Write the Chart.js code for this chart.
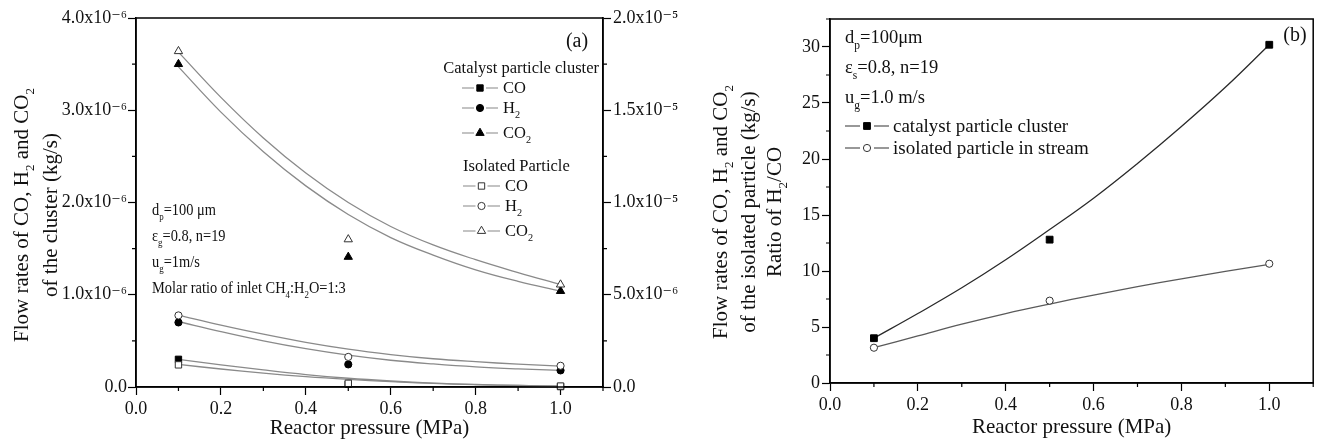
<!DOCTYPE html>
<html>
<head>
<meta charset="utf-8">
<style>
  body { margin: 0; background: #fff; }
  #wrap { position: relative; width: 1319px; height: 442px; }
  #boxA { position: absolute; left: 0; top: 0; width: 780px; height: 442px; }
  #boxB { position: absolute; left: 740px; top: 0; width: 579px; height: 442px; }
</style>
</head>
<body>
<div id="wrap">
  <div id="boxA"><canvas id="chartA"></canvas></div>
  <div id="boxB"><canvas id="chartB"></canvas></div>
</div>

<script src="https://cdn.jsdelivr.net/npm/chart.js"></script>
<script>
  // ---- data ----
  const pressure = [0.1, 0.5, 1.0];

  // (a) catalyst particle cluster, left axis (kg/s)
  const clusterCO  = [0.30e-6, 0.03e-6, 0.005e-6];
  const clusterH2  = [0.70e-6, 0.245e-6, 0.18e-6];
  const clusterCO2 = [3.50e-6, 1.41e-6, 1.04e-6];
  // (a) isolated particle, right axis (kg/s)
  const isolatedCO  = [1.2e-6, 0.2e-6, 0.05e-6];
  const isolatedH2  = [3.88e-6, 1.63e-6, 1.15e-6];
  const isolatedCO2 = [1.82e-5, 8.0e-6, 5.55e-6];

  // fitted curves as drawn in the figure
  const fitPressure = [0.1, 0.2, 0.3, 0.4, 0.5, 0.6, 0.7, 0.8, 0.9, 1.0];
  const fitClusterCO   = [0.30, 0.24, 0.185, 0.135, 0.095, 0.065, 0.042, 0.027, 0.017, 0.01].map(v => v * 1e-6);
  const fitClusterH2   = [0.71, 0.60, 0.50, 0.415, 0.345, 0.29, 0.25, 0.218, 0.196, 0.18].map(v => v * 1e-6);
  const fitClusterCO2  = [3.47, 2.98, 2.55, 2.18, 1.87, 1.62, 1.43, 1.27, 1.145, 1.04].map(v => v * 1e-6);
  const fitIsolatedCO  = [1.225, 0.975, 0.75, 0.56, 0.41, 0.29, 0.195, 0.125, 0.08, 0.05].map(v => v * 1e-6);
  const fitIsolatedH2  = [3.9, 3.35, 2.86, 2.42, 2.05, 1.76, 1.53, 1.37, 1.24, 1.13].map(v => v * 1e-6);
  const fitIsolatedCO2 = [18.15, 15.7, 13.5, 11.6, 10.0, 8.7, 7.7, 6.9, 6.2, 5.55].map(v => v * 1e-6);

  // (b) ratio of H2/CO
  const ratioCluster  = [4.0, 12.8, 30.2];
  const ratioIsolated = [3.15, 7.35, 10.65];
  const fitRatioCluster  = [4.0, 6.2, 8.5, 11.0, 13.7, 16.5, 19.6, 22.9, 26.4, 30.2];
  const fitRatioIsolated = [3.15, 4.2, 5.25, 6.2, 7.05, 7.85, 8.6, 9.3, 9.97, 10.6];

  // tick labels
  const xTickLabels = ['0.0', '0.2', '0.4', '0.6', '0.8', '1.0'];
  const leftTickLabels = ['0.0', '1.0x10\u207B\u2076', '2.0x10\u207B\u2076', '3.0x10\u207B\u2076', '4.0x10\u207B\u2076'];
  const rightTickLabels = ['0.0', '5.0x10\u207B\u2076', '1.0x10\u207B\u2075', '1.5x10\u207B\u2075', '2.0x10\u207B\u2075'];
  const ratioTickLabels = ['0', '5', '10', '15', '20', '25', '30'];

  const SERIF = '"Liberation Serif", "DejaVu Serif", serif';
  Chart.defaults.font.family = SERIF;
  Chart.defaults.color = '#111';

  const pts = (xs, ys) => xs.map((x, i) => ({ x: x, y: ys[i] }));

  // text with subscripts; parts: strings, or [string] for a subscript
  function rich(ctx, parts, x, y, size, align, rot, sx) {
    ctx.save();
    ctx.translate(x, y);
    if (rot) ctx.rotate(rot);
    if (sx) ctx.scale(sx, 1);
    const segs = parts.map(p => Array.isArray(p)
      ? { t: p[0], s: size * 0.62, dy: size * 0.3 }
      : { t: p, s: size, dy: 0 });
    let w = 0;
    segs.forEach(g => { ctx.font = g.s + 'px ' + SERIF; g.w = ctx.measureText(g.t).width; w += g.w; });
    let cx = align === 'center' ? -w / 2 : align === 'right' ? -w : 0;
    ctx.fillStyle = '#111';
    ctx.textAlign = 'left';
    ctx.textBaseline = 'alphabetic';
    segs.forEach(g => {
      ctx.font = g.s + 'px ' + SERIF;
      ctx.fillText(g.t, cx, size * 0.33 + g.dy);
      cx += g.w;
    });
    ctx.restore();
  }

  function marker(ctx, style, x, y, r, filled) {
    ctx.save();
    ctx.beginPath();
    if (style === 'rect') {
      const s = r * Math.SQRT1_2;
      ctx.rect(x - s, y - s, 2 * s, 2 * s);
    } else if (style === 'circle') {
      ctx.arc(x, y, r, 0, Math.PI * 2);
    } else {
      let a = 0;
      ctx.moveTo(x + Math.sin(a) * r, y - Math.cos(a) * r);
      a += Math.PI * 2 / 3;
      ctx.lineTo(x + Math.sin(a) * r, y - Math.cos(a) * r);
      a += Math.PI * 2 / 3;
      ctx.lineTo(x + Math.sin(a) * r, y - Math.cos(a) * r);
      ctx.closePath();
    }
    ctx.fillStyle = filled ? '#000' : '#fff';
    ctx.strokeStyle = filled ? '#000' : '#333';
    ctx.lineWidth = 1;
    ctx.fill();
    ctx.stroke();
    ctx.restore();
  }

  function legendRow(ctx, style, filled, x1, x2, y, r, color, gap, label, lx, size) {
    const mx = (x1 + x2) / 2;
    ctx.save();
    ctx.strokeStyle = color;
    ctx.lineWidth = 1.2;
    ctx.beginPath();
    ctx.moveTo(x1, y); ctx.lineTo(mx - gap, y);
    ctx.moveTo(mx + gap, y); ctx.lineTo(x2, y);
    ctx.stroke();
    ctx.restore();
    marker(ctx, style, mx, y, r, filled);
    rich(ctx, label, lx, y, size, 'left');
  }

  // box around the plot and short minor ticks
  function frameAndMinor(chart, minors) {
    const { ctx, chartArea: a } = chart;
    ctx.save();
    ctx.strokeStyle = '#000';
    ctx.lineWidth = 1.5;
    ctx.strokeRect(a.left, a.top, a.right - a.left, a.bottom - a.top);
    ctx.lineWidth = 1.2;
    ctx.beginPath();
    minors.forEach(m => {
      const s = chart.scales[m.id];
      for (let v = s.min + m.first; v <= s.max + m.step * 1e-6; v += m.step) {
        const p = s.getPixelForValue(v);
        if (m.id === 'x') { ctx.moveTo(p, a.bottom); ctx.lineTo(p, a.bottom + 4); }
        else if (s.position === 'left') { ctx.moveTo(a.left - 4, p); ctx.lineTo(a.left, p); }
        else { ctx.moveTo(a.right, p); ctx.lineTo(a.right + 4, p); }
      }
    });
    ctx.stroke();
    ctx.restore();
  }

  const axisCommon = {
    grid: { drawOnChartArea: false, tickLength: 8, tickWidth: 1.2, tickColor: '#000' },
    border: { color: '#000', width: 1.5 }
  };

  // ---------------- chart (a) ----------------
  const decorA = {
    id: 'decorA',
    afterDraw(chart) {
      const ctx = chart.ctx;
      frameAndMinor(chart, [
        { id: 'x', first: 0.1, step: 0.2 },
        { id: 'y', first: 0.5e-6, step: 1e-6 },
        { id: 'y2', first: 2.5e-6, step: 5e-6 }
      ]);
      // axis titles
      rich(ctx, ['Flow rates of CO, H', ['2'], ' and CO', ['2']], 21, 215, 21, 'center', -Math.PI / 2);
      rich(ctx, ['of the cluster (kg/s)'], 50, 215, 21, 'center', -Math.PI / 2);
      rich(ctx, ['Flow rates of CO, H', ['2'], ' and CO', ['2']], 720, 212, 21, 'center', -Math.PI / 2);
      rich(ctx, ['of the isolated particle (kg/s)'], 748, 212, 21, 'center', -Math.PI / 2);
      // panel label
      rich(ctx, ['(a)'], 577, 40, 20, 'center');
      // legend
      rich(ctx, ['Catalyst particle cluster'], 599, 68, 16.5, 'right');
      legendRow(ctx, 'rect', true, 462, 498, 88, 4.5, '#888', 6, ['CO'], 503, 16.5);
      legendRow(ctx, 'circle', true, 462, 498, 108, 3.6, '#888', 6, ['H', ['2']], 503, 16.5);
      legendRow(ctx, 'triangle', true, 462, 498, 133, 4.8, '#888', 6, ['CO', ['2']], 503, 16.5);
      rich(ctx, ['Isolated Particle'], 463, 166, 16.5, 'left');
      legendRow(ctx, 'rect', false, 463, 500, 186, 4.5, '#888', 6, ['CO'], 505, 16.5);
      legendRow(ctx, 'circle', false, 463, 500, 206, 3.6, '#888', 6, ['H', ['2']], 505, 16.5);
      legendRow(ctx, 'triangle', false, 463, 500, 231, 4.8, '#888', 6, ['CO', ['2']], 505, 16.5);
      // conditions
      rich(ctx, ['d', ['p'], '=100 \u03BCm'], 152, 210, 16, 'left', 0, 0.9);
      rich(ctx, ['\u03B5', ['g'], '=0.8, n=19'], 152, 236, 16, 'left', 0, 0.9);
      rich(ctx, ['u', ['g'], '=1m/s'], 152, 262, 16, 'left', 0, 0.9);
      rich(ctx, ['Molar ratio of inlet CH', ['4'], ':H', ['2'], 'O=1:3'], 152, 288, 16, 'left', 0, 0.9);
    }
  };

  const markerSet = (data, axis, style, r, filled, order) => ({
    data: data, yAxisID: axis, showLine: false, clip: false, order: order,
    pointStyle: style, pointRadius: r, pointBorderWidth: 1,
    pointBackgroundColor: filled ? '#000' : '#fff',
    pointBorderColor: filled ? '#000' : '#333'
  });
  const curveSet = (data, axis, color) => ({
    data: data, yAxisID: axis, pointRadius: 0, borderColor: color, borderWidth: 1.3,
    tension: 0.4, fill: false, order: 2
  });

  new Chart(document.getElementById('chartA'), {
    type: 'line',
    data: {
      datasets: [
        markerSet(pts(pressure, isolatedCO), 'y2', 'rect', 4.5, false, 0),
        markerSet(pts(pressure, isolatedH2), 'y2', 'circle', 3.6, false, 0),
        markerSet(pts(pressure, isolatedCO2), 'y2', 'triangle', 4.8, false, 0),
        markerSet(pts(pressure, clusterCO), 'y', 'rect', 4.5, true, 1),
        markerSet(pts(pressure, clusterH2), 'y', 'circle', 3.6, true, 1),
        markerSet(pts(pressure, clusterCO2), 'y', 'triangle', 4.8, true, 1),
        curveSet(pts(fitPressure, fitClusterCO), 'y', '#8a8a8a'),
        curveSet(pts(fitPressure, fitClusterH2), 'y', '#8a8a8a'),
        curveSet(pts(fitPressure, fitClusterCO2), 'y', '#8a8a8a'),
        curveSet(pts(fitPressure, fitIsolatedCO), 'y2', '#8a8a8a'),
        curveSet(pts(fitPressure, fitIsolatedH2), 'y2', '#8a8a8a'),
        curveSet(pts(fitPressure, fitIsolatedCO2), 'y2', '#8a8a8a')
      ]
    },
    options: {
      responsive: true,
      maintainAspectRatio: false,
      animation: false,
      layout: { padding: { top: 18, left: 0, right: 0, bottom: 0 } },
      plugins: { legend: { display: false }, tooltip: { enabled: false } },
      scales: {
        x: {
          ...axisCommon, type: 'linear', min: 0, max: 1.1,
          afterFit: s => { s.height = 55; },
          ticks: { stepSize: 0.2, includeBounds: false, autoSkip: false, maxRotation: 0,
                   padding: 3, font: { size: 18 }, color: '#111', callback: (v, i) => xTickLabels[i] },
          title: { display: true, text: 'Reactor pressure (MPa)', font: { size: 21 }, color: '#111',
                   padding: { top: 0, bottom: 1 } }
        },
        y: {
          ...axisCommon, position: 'left', min: 0, max: 4e-6,
          afterFit: s => { s.width = 136; },
          ticks: { stepSize: 1e-6, includeBounds: false, autoSkip: false, padding: 1,
                   font: { size: 18 }, color: '#111', callback: (v, i) => leftTickLabels[i] }
        },
        y2: {
          ...axisCommon, position: 'right', min: 0, max: 2e-5,
          afterFit: s => { s.width = 177; },
          ticks: { stepSize: 5e-6, includeBounds: false, autoSkip: false, padding: 2,
                   font: { size: 18 }, color: '#111', callback: (v, i) => rightTickLabels[i] }
        }
      }
    },
    plugins: [decorA]
  });

  // ---------------- chart (b) ----------------
  const OFF = 740;
  const decorB = {
    id: 'decorB',
    afterDraw(chart) {
      const ctx = chart.ctx;
      frameAndMinor(chart, [
        { id: 'x', first: 0.1, step: 0.2 },
        { id: 'y', first: 2.5, step: 5 }
      ]);
      rich(ctx, ['Ratio of H', ['2'], '/CO'], 774 - OFF, 212, 21, 'center', -Math.PI / 2);
      rich(ctx, ['(b)'], 1295 - OFF, 34, 20, 'center');
      rich(ctx, ['d', ['p'], '=100\u03BCm'], 845 - OFF, 37, 18.5, 'left');
      rich(ctx, ['\u03B5', ['s'], '=0.8, n=19'], 845 - OFF, 67, 18.5, 'left');
      rich(ctx, ['u', ['g'], '=1.0 m/s'], 845 - OFF, 97, 18.5, 'left');
      legendRow(ctx, 'rect', true, 845 - OFF, 889 - OFF, 126, 4.8, '#333', 7, ['catalyst particle cluster'], 893 - OFF, 19);
      legendRow(ctx, 'circle', false, 845 - OFF, 889 - OFF, 148, 3.6, '#333', 7, ['isolated particle in stream'], 893 - OFF, 19);
    }
  };

  new Chart(document.getElementById('chartB'), {
    type: 'line',
    data: {
      datasets: [
        markerSet(pts(pressure, ratioIsolated), 'y', 'circle', 3.6, false, 0),
        markerSet(pts(pressure, ratioCluster), 'y', 'rect', 4.8, true, 1),
        curveSet(pts(fitPressure, fitRatioCluster), 'y', '#2a2a2a'),
        curveSet(pts(fitPressure, fitRatioIsolated), 'y', '#5a5a5a')
      ]
    },
    options: {
      responsive: true,
      maintainAspectRatio: false,
      animation: false,
      layout: { padding: { top: 19, left: 0, right: 1, bottom: 0 } },
      plugins: { legend: { display: false }, tooltip: { enabled: false } },
      scales: {
        x: {
          ...axisCommon, type: 'linear', min: 0, max: 1.1,
          afterFit: s => { s.height = 59; },
          ticks: { stepSize: 0.2, includeBounds: false, autoSkip: false, maxRotation: 0,
                   padding: 3, font: { size: 18 }, color: '#111', callback: (v, i) => xTickLabels[i] },
          title: { display: true, text: 'Reactor pressure (MPa)', font: { size: 21 }, color: '#111',
                   padding: { top: 0, bottom: 2 } }
        },
        y: {
          ...axisCommon, position: 'left', min: 0, max: 32.5,
          afterFit: s => { s.width = 90; },
          ticks: { stepSize: 5, includeBounds: false, autoSkip: false, padding: 2,
                   font: { size: 18 }, color: '#111', callback: (v, i) => ratioTickLabels[i] }
        }
      }
    },
    plugins: [decorB]
  });
</script>
</body>
</html>
